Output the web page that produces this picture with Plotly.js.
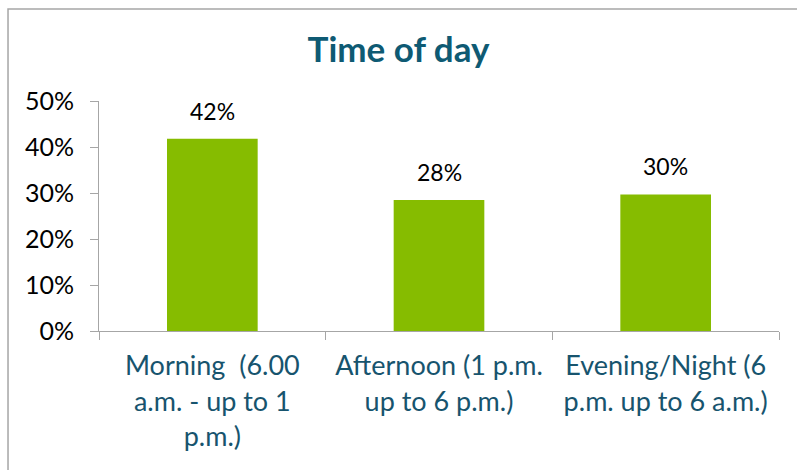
<!DOCTYPE html>
<html>
<head>
<meta charset="utf-8">
<script src="https://cdn.plot.ly/plotly-3.0.1.min.js"></script>
<style>html,body{margin:0;padding:0;background:#fff;}#chart{width:797px;height:470px;}</style>
</head>
<body>
<div id="chart"></div>
<script>
const categories = ["Morning  (6.00<br>a.m. - up to 1<br>p.m.)", "Afternoon (1 p.m.<br>up to 6 p.m.)", "Evening/Night (6<br>p.m. up to 6 a.m.)"];
const shares = [0.418, 0.285, 0.297];
const labels = ["42%", "28%", "30%"];
const yTicks = [0, 0.1, 0.2, 0.3, 0.4, 0.5];
const yTickText = ["0%", "10%", "20%", "30%", "40%", "50%"];

const font = "Lato, 'Noto Sans', sans-serif";
const trace = {
  type: "bar",
  x: categories,
  y: shares,
  marker: {color: "#86BC00"},
  width: 0.4,
  hoverinfo: "skip"
};
const annotations = categories.map((c, i) => ({
  x: c, y: shares[i], xref: "x", yref: "y", text: labels[i], showarrow: false,
  yanchor: "bottom", yshift: 12, font: {family: font, size: 23, color: "#000"}
}));
const layout = {
  width: 797, height: 470,
  margin: {l: 99, r: 18, t: 101, b: 139},
  paper_bgcolor: "#fff", plot_bgcolor: "#fff",
  showlegend: false,
  title: {text: "<b>Time of day</b>", x: 0.5, xanchor: "center", y: 0.895, yanchor: "middle",
          font: {family: font, size: 35, color: "#0E5A73"}},
  xaxis: {
    showline: true, linecolor: "#A6A6A6", linewidth: 1,
    ticks: "outside", tickson: "boundaries", ticklen: 8, tickcolor: "#A6A6A6",
    tickfont: {family: font, size: 27, color: "#17546E"},
    ticklabelstandoff: 11,
    fixedrange: true, tickangle: 0
  },
  yaxis: {
    range: [0, 0.5], tickvals: yTicks, ticktext: yTickText,
    showgrid: false, zeroline: false,
    showline: true, linecolor: "#A6A6A6", linewidth: 1,
    ticks: "outside", ticklen: 8, tickcolor: "#A6A6A6",
    ticklabelstandoff: 11,
    tickfont: {family: font, size: 25, color: "#000"},
    fixedrange: true
  },
  annotations: annotations,
  shapes: [{
    type: "rect", xref: "paper", yref: "paper",
    x0: -0.1338, x1: 1.1, y0: -1.0, y1: 1.4,
    line: {color: "#A6A6A6", width: 1.5}, fillcolor: "rgba(0,0,0,0)", layer: "below"
  }]
};
Plotly.newPlot("chart", [trace], layout, {displayModeBar: false, staticPlot: true});
</script>
</body>
</html>
